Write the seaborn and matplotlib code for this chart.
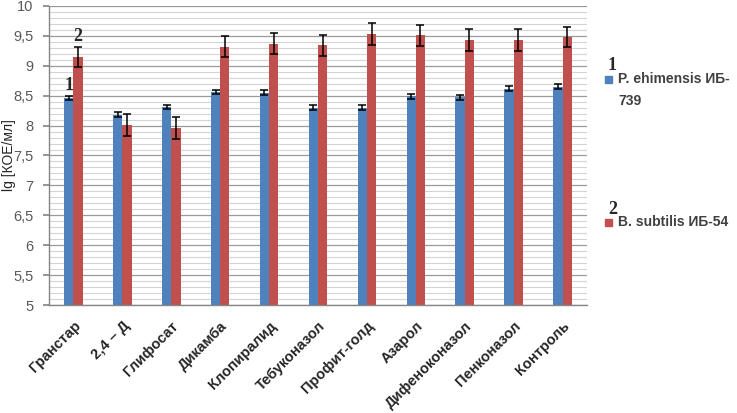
import numpy as np
import pandas as pd
import seaborn as sns
import matplotlib.pyplot as plt
from matplotlib.ticker import MultipleLocator, FuncFormatter

sns.set_theme(style="white")
plt.rcParams['font.family'] = ['Liberation Sans', 'DejaVu Sans']

categories = ["Гранстар", "2,4 – Д", "Глифосат", "Дикамба", "Клопиралид",
              "Тебуконазол", "Профит-голд", "Азарол", "Дифеноконазол",
              "Пенконазол", "Контроль"]
strains = ["P. ehimensis ИБ-739", "B. subtilis ИБ-54"]
p_ehim = [8.46, 8.18, 8.31, 8.56, 8.55, 8.30, 8.30, 8.49, 8.47, 8.62, 8.65]
p_ehim_err = [0.04, 0.04, 0.04, 0.04, 0.04, 0.04, 0.04, 0.04, 0.04, 0.04, 0.04]
b_subt = [9.15, 8.01, 7.96, 9.32, 9.37, 9.34, 9.53, 9.51, 9.43, 9.43, 9.48]
b_subt_err = [0.17, 0.18, 0.18, 0.18, 0.18, 0.18, 0.18, 0.18, 0.18, 0.18, 0.17]

df = pd.DataFrame({
    "cat": categories * 2,
    "strain": [strains[0]] * len(categories) + [strains[1]] * len(categories),
    "val": p_ehim + b_subt,
    "err": p_ehim_err + b_subt_err,
})

colors = ["#4F81BD", "#C0504D"]

fig = plt.figure(figsize=(7.37, 4.13), dpi=100)
ax = fig.add_axes([0.0665, 0.2615, 0.73, 0.724])

sns.barplot(data=df, x="cat", y="val", hue="strain", palette=colors,
            width=0.38, errorbar=None, saturation=1, legend=False,
            linewidth=0, ax=ax)

# error bars at bar centres
bars = [p for p in ax.patches if p.get_height() > 0]
for bar, (_, row) in zip(bars, df.iterrows()):
    cx = bar.get_x() + bar.get_width() / 2
    ax.errorbar(cx, row["val"], yerr=row["err"], fmt="none", ecolor="black",
                elinewidth=1.1, capsize=3, capthick=1.1, zorder=4)

ax.set_ylim(5, 10)
ax.set_xlim(-0.5, len(categories) - 0.5)
ax.yaxis.set_major_locator(MultipleLocator(0.5))
ax.yaxis.set_minor_locator(MultipleLocator(0.1))
ax.yaxis.set_major_formatter(FuncFormatter(lambda v, p: f"{v:g}".replace(".", ",")))
ax.grid(True, axis="y", which="major", color="#9a9a9a", lw=0.9)
ax.grid(True, axis="y", which="minor", color="#d4d4d4", lw=0.8)
ax.set_axisbelow(True)

for s in ["top", "right"]:
    ax.spines[s].set_visible(False)
for s in ["left", "bottom"]:
    ax.spines[s].set_color("#868686")
    ax.spines[s].set_linewidth(1)

ax.tick_params(axis="y", which="major", left=True, length=4, color="#868686",
               labelsize=10.5, labelcolor="#595959", pad=7)
ax.tick_params(axis="y", which="minor", left=False)
ax.tick_params(axis="x", bottom=False, pad=4)
ax.set_xticks(range(len(categories)))
ax.set_xticklabels(categories, rotation=45, ha="right", rotation_mode="anchor",
                   fontsize=10.5, fontweight="bold", color="#262626")
ax.set_xlabel("")
ax.set_ylabel("lg [КОЕ/мл]", fontsize=10, color="#262626")
ax.yaxis.set_label_coords(-0.062, 0.5)

# series numbers over the first group
ax.text(bars[0].get_x() + bars[0].get_width() / 2, p_ehim[0] + 0.07, "1",
        ha="center", va="bottom", fontsize=13, fontweight="bold",
        family="Liberation Serif")
ax.text(bars[11].get_x() + bars[11].get_width() / 2, b_subt[0] + 0.2, "2",
        ha="center", va="bottom", fontsize=13, fontweight="bold",
        family="Liberation Serif")

# legend on the right
leg_items = [(0.821, 0.800, "P. ehimensis ИБ-\n739", "1"),
             (0.821, 0.453, "B. subtilis ИБ-54", "2")]
for (lx, ly, txt, num), col in zip(leg_items, colors):
    fig.patches.append(plt.Rectangle((lx, ly), 0.0095, 0.017, color=col,
                                     transform=fig.transFigure, figure=fig))
    lines = txt.split("\n")
    fig.text(lx + 0.018, ly + 0.0085, lines[0], va="center",
             fontsize=10, fontweight="bold", color="#404040")
    if len(lines) > 1:
        fig.text(lx + 0.018, ly - 0.045, lines[1], va="center",
                 fontsize=10, fontweight="bold", color="#404040")
    fig.text(lx + 0.01, ly + 0.02, num, ha="center", va="bottom",
             fontsize=13, fontweight="bold", family="Liberation Serif")

fig.savefig("out.png", dpi=100)
